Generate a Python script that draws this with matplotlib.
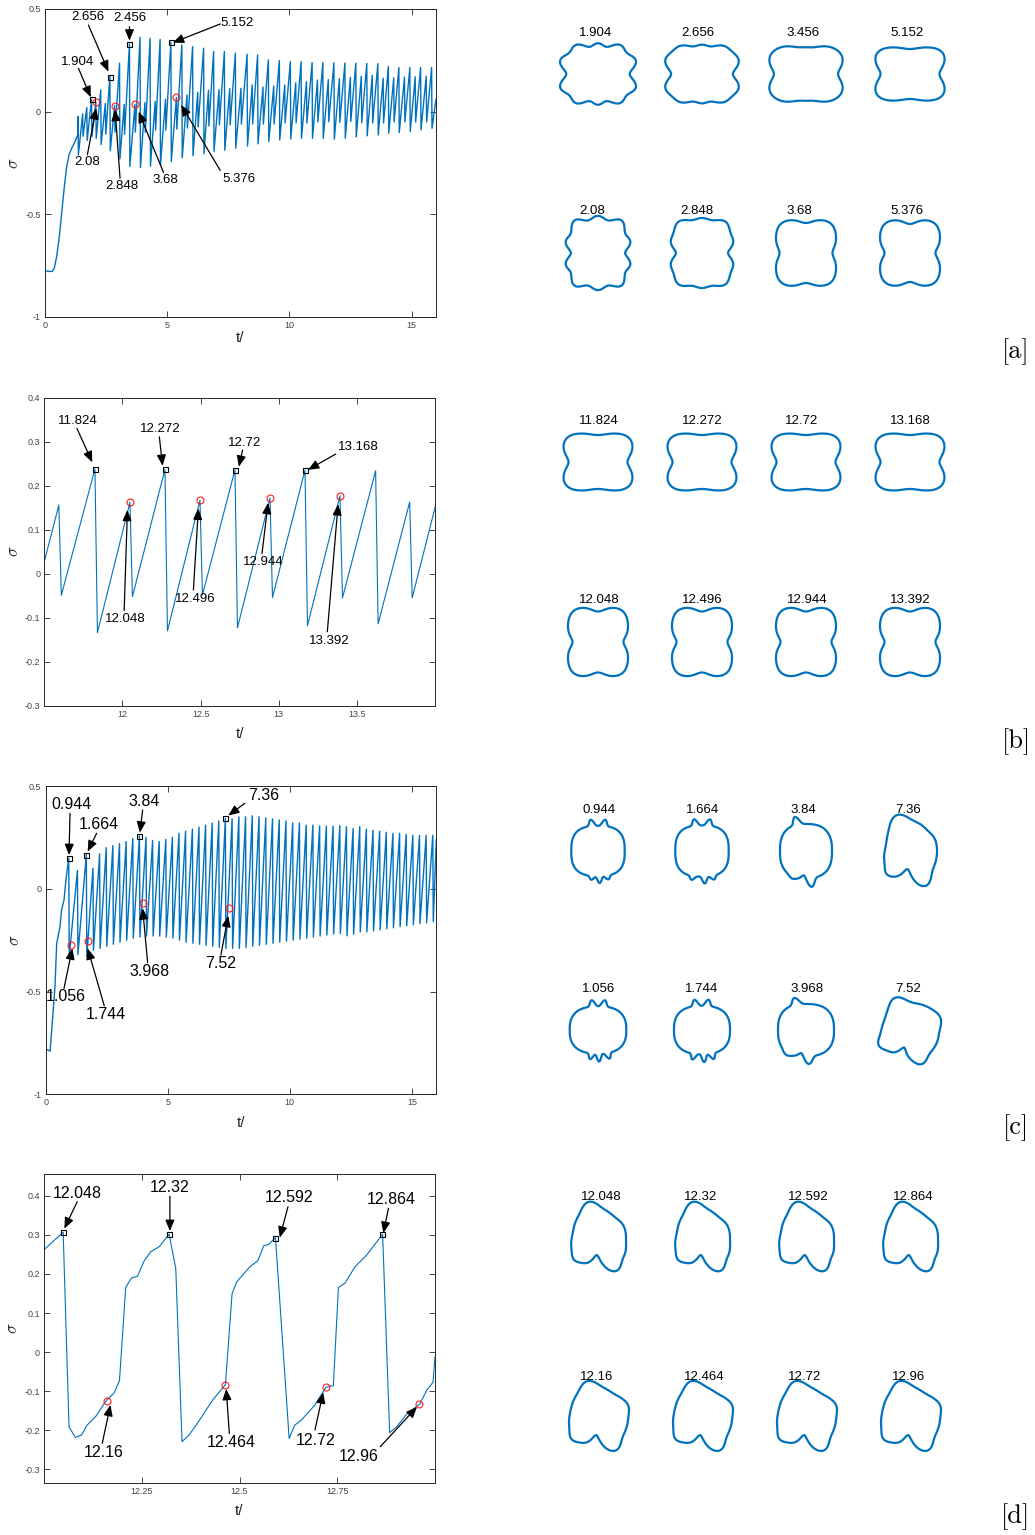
import numpy as np
import matplotlib
matplotlib.use("Agg")
import matplotlib.pyplot as plt
from matplotlib.patches import Polygon

plt.rcParams['font.family'] = ['Liberation Sans', 'DejaVu Sans']
plt.rcParams['mathtext.fontset'] = 'cm'

W, H, DPI = 1035, 1535, 100
BLUE = '#0072BD'
TICK_GREY = '#444444'
fig = plt.figure(figsize=(W / DPI, H / DPI), dpi=DPI, facecolor='white')


def add_px_axes(left, top, right, bottom):
    return fig.add_axes([left / W, 1 - bottom / H, (right - left) / W, (bottom - top) / H])


# ---------------------------------------------------------------- run 1 (panels a, b)
a_start_t = [0.0, 0.01, 0.178, 0.30, 0.383, 0.478, 0.587, 0.683, 0.792, 0.888, 0.984, 1.093, 1.23, 1.339]
a_start_s = [0.04, -0.775, -0.778, -0.778, -0.761, -0.705, -0.607, -0.494, -0.364, -0.267, -0.210, -0.178, -0.145, -0.113]
a_peak_t = [1.35, 1.54, 1.71, 1.904, 2.08, 2.28, 2.47, 2.656, 2.848, 3.05, 3.24, 3.456, 3.68, 3.89,
            4.09, 4.30, 4.51, 4.71, 4.93, 5.152, 5.376, 5.60, 5.81, 6.04, 6.25, 6.49, 6.69, 6.90,
            7.12, 7.34, 7.56, 7.79, 8.02, 8.27, 8.48, 8.70, 8.92, 9.14, 9.36, 9.59, 9.81, 10.04,
            10.26, 10.48, 10.70, 10.93, 11.15, 11.37, 11.593, 11.824, 12.048, 12.272, 12.496, 12.72,
            12.944, 13.168, 13.392, 13.62, 13.838, 14.05, 14.27, 14.48, 14.71, 14.93, 15.15, 15.37,
            15.60, 15.82]
a_peak_s = [-0.024, -0.010, 0.020, 0.060, 0.046, 0.106, 0.040, 0.171, 0.030, 0.236, 0.035, 0.330, 0.035, 0.362,
            0.045, 0.357, 0.050, 0.352, 0.060, 0.338, 0.069, 0.325, 0.082, 0.317, 0.095, 0.309, 0.105, 0.293,
            0.108, 0.293, 0.112, 0.285, 0.114, 0.280, 0.130, 0.276, 0.120, 0.252, 0.125, 0.249, 0.130, 0.244,
            0.141, 0.244, 0.146, 0.239, 0.154, 0.239, 0.156, 0.238, 0.162, 0.237, 0.167, 0.236,
            0.172, 0.235, 0.177, 0.234, 0.163, 0.220, 0.165, 0.215, 0.168, 0.215, 0.170, 0.215,
            0.173, 0.215]
a_trough_s = [-0.210, -0.120, -0.140, -0.120, -0.130, -0.160, -0.110, -0.190, -0.100, -0.230, -0.110, -0.267, -0.100, -0.272,
              -0.100, -0.265, -0.090, -0.259, -0.090, -0.243, -0.085, -0.225, -0.080, -0.215, -0.075, -0.205, -0.070, -0.194,
              -0.065, -0.188, -0.065, -0.178, -0.060, -0.167, -0.060, -0.157, -0.060, -0.146, -0.060, -0.138, -0.055, -0.133,
              -0.055, -0.130, -0.055, -0.130, -0.050, -0.130, -0.049, -0.134, -0.052, -0.130, -0.048, -0.123,
              -0.054, -0.118, -0.055, -0.114, -0.055, -0.105, -0.050, -0.102, -0.050, -0.097, -0.050, -0.089,
              -0.050, -0.081]
a_drop = 0.016
a_end_t, a_end_s = 16.0, 0.06

a_sq_t = [1.904, 2.656, 3.456, 5.152]
a_sq_s = [0.060, 0.171, 0.330, 0.338]
a_sq_labels = ['1.904', '2.656', '2.456', '5.152']
a_ci_t = [2.08, 2.848, 3.68, 5.376]
a_ci_s = [0.046, 0.030, 0.035, 0.069]
a_ci_labels = ['2.08', '2.848', '3.68', '5.376']

b_sq_t = [11.824, 12.272, 12.72, 13.168]
b_sq_s = [0.238, 0.237, 0.236, 0.235]
b_sq_labels = ['11.824', '12.272', '12.72', '13.168']
b_ci_t = [12.048, 12.496, 12.944, 13.392]
b_ci_s = [0.162, 0.167, 0.172, 0.177]
b_ci_labels = ['12.048', '12.496', '12.944', '13.392']

# ---------------------------------------------------------------- run 2 (panels c, d)
c_start_t = [0.0, 0.01, 0.18, 0.245, 0.38, 0.45, 0.585, 0.65, 0.75, 0.83]
c_start_s = [0.0, -0.78, -0.79, -0.687, -0.477, -0.266, -0.185, -0.103, -0.055, 0.043]
c_peak_t = [0.944, 1.30, 1.664, 1.936, 2.208, 2.48, 2.752, 3.024, 3.296, 3.568, 3.84, 4.11, 4.38, 4.65,
            4.92, 5.19, 5.46, 5.73, 6.01, 6.28, 6.55, 6.82, 7.09, 7.36, 7.636, 7.912, 8.187, 8.463,
            8.739, 9.015, 9.291, 9.566, 9.842, 10.118, 10.394, 10.670, 10.945, 11.221, 11.497, 11.773,
            12.048, 12.32, 12.592, 12.864, 13.136, 13.408, 13.68, 13.952, 14.224, 14.496, 14.768, 15.04,
            15.312, 15.584, 15.856]
c_peak_s = [0.148, 0.090, 0.166, 0.100, 0.170, 0.200, 0.210, 0.220, 0.230, 0.245, 0.258, 0.250, 0.235, 0.230,
            0.240, 0.250, 0.270, 0.280, 0.290, 0.300, 0.310, 0.320, 0.330, 0.343, 0.340, 0.350, 0.350, 0.355,
            0.350, 0.345, 0.340, 0.335, 0.330, 0.320, 0.320, 0.310, 0.310, 0.305, 0.305, 0.305,
            0.307, 0.302, 0.293, 0.302, 0.290, 0.285, 0.280, 0.275, 0.270, 0.270, 0.265, 0.260,
            0.260, 0.260, 0.260]
c_trough_s = [-0.330, -0.320, -0.330, -0.300, -0.290, -0.280, -0.270, -0.260, -0.250, -0.240, -0.235, -0.230, -0.230, -0.230,
              -0.235, -0.240, -0.250, -0.260, -0.265, -0.270, -0.275, -0.280, -0.285, -0.290, -0.290, -0.290, -0.285, -0.280,
              -0.275, -0.270, -0.265, -0.260, -0.255, -0.250, -0.245, -0.240, -0.235, -0.230, -0.225, -0.220,
              -0.218, -0.229, -0.221, -0.210, -0.210, -0.205, -0.200, -0.195, -0.190, -0.185, -0.180, -0.175,
              -0.170, -0.165, -0.160]
c_drop = 0.02
c_end_t, c_end_s = 16.0, 0.24

c_sq_t = [0.944, 1.664, 3.84, 7.36]
c_sq_s = [0.148, 0.166, 0.258, 0.343]
c_sq_labels = ['0.944', '1.664', '3.84', '7.36']
c_ci_t = [1.056, 1.744, 3.968, 7.52]
c_ci_s = [-0.272, -0.252, -0.068, -0.093]
c_ci_labels = ['1.056', '1.744', '3.968', '7.52']

d_t = [11.997, 12.049, 12.064, 12.080, 12.096, 12.110, 12.132, 12.159, 12.179, 12.193, 12.209, 12.224,
       12.239, 12.256, 12.273, 12.295, 12.320, 12.337, 12.353, 12.370, 12.389, 12.431, 12.464, 12.481,
       12.493, 12.526, 12.547, 12.562, 12.575, 12.592, 12.627, 12.641, 12.658, 12.693, 12.721, 12.731,
       12.740, 12.753, 12.770, 12.795, 12.825, 12.866, 12.884, 12.902, 12.928, 12.961, 12.979, 12.995, 13.0]
d_s = [0.259, 0.307, -0.191, -0.218, -0.212, -0.187, -0.165, -0.124, -0.105, -0.073, 0.166, 0.190,
       0.194, 0.233, 0.257, 0.270, 0.302, 0.214, -0.229, -0.213, -0.187, -0.123, -0.083, 0.150,
       0.180, 0.218, 0.234, 0.272, 0.276, 0.293, -0.221, -0.187, -0.174, -0.135, -0.090, -0.087,
       -0.086, 0.165, 0.177, 0.218, 0.248, 0.302, -0.206, -0.191, -0.158, -0.133, -0.097, -0.077, -0.012]
d_sq_t = [12.048, 12.32, 12.592, 12.864]
d_sq_s = [0.307, 0.302, 0.293, 0.302]
d_sq_labels = ['12.048', '12.32', '12.592', '12.864']
d_ci_t = [12.16, 12.464, 12.72, 12.96]
d_ci_s = [-0.124, -0.083, -0.090, -0.133]
d_ci_labels = ['12.16', '12.464', '12.72', '12.96']


def sawtooth(start_t, start_s, peak_t, peak_s, trough_s, drop, end_t, end_s):
    pt = np.asarray(peak_t, dtype=float)
    tt = np.column_stack([pt, pt + drop]).ravel()
    ss = np.column_stack([peak_s, trough_s]).ravel()
    t = np.concatenate([start_t, tt, [end_t]])
    s = np.concatenate([start_s, ss, [end_s]])
    return t, s


def style_axes(ax, xlim, ylim, xticks, xlabels, yticks, ylabels, xlab_y):
    ax.set_xlim(*xlim)
    ax.set_ylim(*ylim)
    ax.set_xticks(xticks)
    ax.set_xticklabels(xlabels)
    ax.set_yticks(yticks)
    ax.set_yticklabels(ylabels)
    ax.tick_params(direction='in', length=4, width=0.6, top=True, right=True,
                   labelsize=6.5, labelcolor=TICK_GREY, color='#262626', pad=3)
    for sp in ax.spines.values():
        sp.set_linewidth(0.7)
        sp.set_color('#262626')
    ax.set_ylabel(r'$\sigma$', fontsize=12, color='#262626')
    ax.yaxis.set_label_coords(-0.060, 0.5)
    ax.set_xlabel('t/', fontsize=11, color='#262626')
    ax.xaxis.set_label_coords(0.5, xlab_y)


def annotate(ax, label, text_xy, tail_xy, head_xy, size):
    ax.annotate('', xy=head_xy, xytext=tail_xy,
                arrowprops=dict(arrowstyle='-|>,head_length=0.6,head_width=0.25', lw=0.9,
                                color='black', shrinkA=0, shrinkB=0, mutation_scale=11))
    ax.text(text_xy[0], text_xy[1], label, fontsize=size, ha='center', va='center', color='black')


def markers(ax, sq_t, sq_s, ci_t, ci_s):
    ax.plot(sq_t, sq_s, 's', ms=3.6, mfc='none', mec='black', mew=0.8, zorder=5)
    ax.plot(ci_t, ci_s, 'o', ms=5.0, mfc='none', mec='#ff1a1a', mew=0.8, zorder=5)


yt_a = [-1, -0.5, 0, 0.5]
yl_a = ['-1', '-0.5', '0', '0.5']
xt_a = [0, 5, 10, 15]
xl_a = ['0', '5', '10', '15']
yt_b = [-0.3, -0.2, -0.1, 0, 0.1, 0.2, 0.3, 0.4]
yl_b = ['-0.3', '-0.2', '-0.1', '0', '0.1', '0.2', '0.3', '0.4']

# ---------------- panel a
ta, sa = sawtooth(a_start_t, a_start_s, a_peak_t, a_peak_s, a_trough_s, a_drop, a_end_t, a_end_s)
ax = add_px_axes(45, 9, 436, 317)
ax.plot(ta, sa, color=BLUE, lw=1.0)
markers(ax, a_sq_t, a_sq_s, a_ci_t, a_ci_s)
style_axes(ax, (0, 16), (-1, 0.5), xt_a, xl_a, yt_a, yl_a, -0.046)
a_text = [(1.34, 0.244), (1.76, 0.459), (3.456, 0.455), (7.855, 0.430)]
a_tail = [(1.37, 0.211), (1.776, 0.422), (3.456, 0.414), (7.17, 0.427)]
a_head = [(1.872, 0.070), (2.596, 0.195), (3.456, 0.346), (5.23, 0.336)]
for lab, p, q, r in zip(a_sq_labels, a_text, a_tail, a_head):
    annotate(ax, lab, p, q, r, 9.5)
a_text2 = [(1.735, -0.247), (3.128, -0.364), (4.904, -0.335), (7.94, -0.327)]
a_tail2 = [(1.735, -0.210), (3.07, -0.324), (4.85, -0.296), (7.17, -0.286)]
a_head2 = [(2.09, 0.017), (2.87, 0.009), (3.83, 0.0), (5.57, 0.033)]
for lab, p, q, r in zip(a_ci_labels, a_text2, a_tail2, a_head2):
    annotate(ax, lab, p, q, r, 9.5)

# ---------------- panel b
ax = add_px_axes(44.3, 397.7, 435, 705.7)
ax.plot(ta, sa, color=BLUE, lw=0.8)
markers(ax, b_sq_t, b_sq_s, b_ci_t, b_ci_s)
style_axes(ax, (11.5, 14.0), (-0.3, 0.4), [12, 12.5, 13, 13.5], ['12', '12.5', '13', '13.5'],
           yt_b, yl_b, -0.069)
b_text = [(11.715, 0.347), (12.240, 0.328), (12.78, 0.296), (13.508, 0.289)]
b_tail = [(11.709, 0.330), (12.236, 0.311), (12.769, 0.281), (13.365, 0.272)]
b_head = [(11.807, 0.253), (12.257, 0.245), (12.745, 0.243), (13.187, 0.236)]
for lab, p, q, r in zip(b_sq_labels, b_text, b_tail, b_head):
    annotate(ax, lab, p, q, r, 9.5)
b_text2 = [(12.019, -0.104), (12.465, -0.058), (12.90, 0.026), (13.322, -0.152)]
b_tail2 = [(12.011, -0.084), (12.454, -0.037), (12.893, 0.046), (13.311, -0.132)]
b_head2 = [(12.032, 0.145), (12.486, 0.148), (12.932, 0.161), (13.380, 0.158)]
for lab, p, q, r in zip(b_ci_labels, b_text2, b_tail2, b_head2):
    annotate(ax, lab, p, q, r, 9.5)

# ---------------- panel c
tc, sc = sawtooth(c_start_t, c_start_s, c_peak_t, c_peak_s, c_trough_s, c_drop, c_end_t, c_end_s)
ax = add_px_axes(45.7, 786, 436.3, 1094.3)
ax.plot(tc, sc, color=BLUE, lw=1.0)
markers(ax, c_sq_t, c_sq_s, c_ci_t, c_ci_s)
style_axes(ax, (0, 16), (-1, 0.5), xt_a, xl_a, yt_a, yl_a, -0.069)
c_text = [(1.037, 0.411), (2.156, 0.314), (4.025, 0.424), (8.909, 0.456)]
c_tail = [(0.996, 0.367), (2.087, 0.270), (3.97, 0.383), (8.158, 0.416)]
c_head = [(0.955, 0.164), (1.719, 0.181), (3.861, 0.273), (7.476, 0.356)]
for lab, p, q, r in zip(c_sq_labels, c_text, c_tail, c_head):
    annotate(ax, lab, p, q, r, 11.5)
c_text2 = [(0.819, -0.525), (2.456, -0.614), (4.243, -0.403), (7.162, -0.363)]
c_tail2 = [(0.75, -0.484), (2.401, -0.570), (4.175, -0.359), (7.176, -0.322)]
c_head2 = [(1.091, -0.290), (1.719, -0.290), (3.97, -0.095), (7.476, -0.132)]
for lab, p, q, r in zip(c_ci_labels, c_text2, c_tail2, c_head2):
    annotate(ax, lab, p, q, r, 11.5)

# ---------------- panel d
ax = add_px_axes(44, 1174.3, 435, 1482.7)
ax.plot(d_t, d_s, color=BLUE, lw=0.8)
markers(ax, d_sq_t, d_sq_s, d_ci_t, d_ci_s)
style_axes(ax, (12.0, 13.0), (-0.334, 0.455), [12.25, 12.5, 12.75], ['12.25', '12.5', '12.75'],
           yt_b, yl_b, -0.069)
d_text = [(12.086, 0.406), (12.322, 0.421), (12.628, 0.395), (12.887, 0.391)]
d_tail = [(12.085, 0.385), (12.322, 0.399), (12.624, 0.372), (12.881, 0.368)]
d_head = [(12.052, 0.316), (12.322, 0.310), (12.603, 0.293), (12.868, 0.305)]
for lab, p, q, r in zip(d_sq_labels, d_text, d_tail, d_head):
    annotate(ax, lab, p, q, r, 11.5)
d_text2 = [(12.153, -0.256), (12.480, -0.231), (12.695, -0.225), (12.806, -0.268)]
d_tail2 = [(12.149, -0.233), (12.474, -0.208), (12.693, -0.199), (12.86, -0.242)]
d_head2 = [(12.170, -0.135), (12.466, -0.094), (12.714, -0.103), (12.954, -0.140)]
for lab, p, q, r in zip(d_ci_labels, d_text2, d_tail2, d_head2):
    annotate(ax, lab, p, q, r, 11.5)


# ---------------------------------------------------------------- drop outlines
def outline(a, b, n, rot=0.0, modes=(), bumps=()):
    th = np.linspace(0, 2 * np.pi, 1440, endpoint=False)
    r = (np.abs(np.cos(th) / a) ** n + np.abs(np.sin(th) / b) ** n) ** (-1.0 / n)
    m = np.ones_like(th)
    for k, amp, ph in modes:
        m = m + amp * np.cos(k * th + np.radians(ph))
    r = r * m
    for ang, h, w in bumps:
        d = np.angle(np.exp(1j * (th - np.radians(ang))))
        r = r + h * np.exp(-(d / np.radians(w)) ** 2)
    x, y = r * np.cos(th), r * np.sin(th)
    c, s = np.cos(np.radians(rot)), np.sin(np.radians(rot))
    return c * x - s * y, s * x + c * y


wide_pinch = dict(a=36, b=29.5, n=4, bumps=[(0, -6.5, 17), (180, -6.5, 17), (90, -2.5, 28), (270, -2.5, 28)])
tall_pinch = dict(a=30.5, b=35, n=4.2, bumps=[(0, -5, 16), (180, -5, 16), (90, -4.5, 16), (270, -4.5, 16)])
tooth_top = dict(a=28, b=28, n=2.2, bumps=[(104, 9, 19), (300, 9, 17), (266, -11, 14), (222, 3.5, 14),
                                            (165, -2.5, 25), (50, -2, 18), (330, 2, 15)])
tooth_bot = dict(a=30, b=29, n=2.2, bumps=[(106, 8, 19), (298, 8, 17), (264, -11, 14), (220, 4, 14),
                                            (165, -2, 25), (55, -2, 18), (20, 2, 15)])

shapes = {
    'a': ([dict(a=37, b=29, n=3.2, modes=[(10, 0.06, 180)], bumps=[(0, -3, 14), (180, -3, 14)]),
           dict(a=37, b=28.5, n=3.6, modes=[(10, 0.03, 180)], bumps=[(0, -5, 14), (180, -5, 14)]),
           dict(a=37.5, b=28, n=4.2, modes=[(10, 0.01, 180)],
                bumps=[(0, -5, 15), (180, -5, 15), (90, -1.5, 25), (270, -1.5, 25)]),
           dict(a=36.5, b=27.5, n=4, bumps=[(0, -7, 17), (180, -7, 17), (90, -2.5, 28), (270, -2.5, 28)])],
          [dict(a=31, b=35, n=3.2, modes=[(10, 0.06, 180)], bumps=[(0, -2, 14), (180, -2, 14)]),
           dict(a=31, b=34, n=3.6, modes=[(10, 0.03, 180)], bumps=[(0, -4, 14), (180, -4, 14)]),
           dict(a=30.5, b=33.5, n=4.2, bumps=[(0, -4, 16), (180, -4, 16), (90, -3.5, 16), (270, -3.5, 16)]),
           dict(a=30.5, b=33.5, n=4.2, bumps=[(0, -5, 16), (180, -5, 16), (90, -4.5, 16), (270, -4.5, 16)])]),
    'b': ([wide_pinch] * 4, [tall_pinch] * 4),
    'c': ([dict(a=26.7, b=25, n=2.8, bumps=[(77, 6.5, 6), (103, 6.5, 6), (257, 4, 5.5), (273, 7, 5.5), (290, 4, 5.5)]),
           dict(a=26.7, b=25.5, n=2.8, bumps=[(76, 6.5, 6), (104, 6.5, 6), (250, 4, 5.5), (275, 7, 5.5), (293, 4, 5.5)]),
           dict(a=26, b=27, n=2.6, bumps=[(108, 8, 7), (279, 9, 8), (265, -3, 6), (244, 2.5, 10)]),
           dict(a=27, b=29, n=2.2, bumps=[(110, 9, 20), (295, 9, 17), (262, -11, 14), (225, 4, 14),
                                          (165, -2.5, 25), (50, -2, 18)])],
          [dict(a=28.3, b=23.5, n=2.6, bumps=[(77, 6.5, 6.5), (102, 6.5, 6.5), (255, 6, 5.5), (272, 8, 5.5), (292, 6, 5.5)]),
           dict(a=28, b=24, n=2.6, bumps=[(78, 6.5, 6.5), (104, 6.5, 6.5), (252, 6, 5.5), (274, 8, 5.5), (292, 6, 5.5)]),
           dict(a=28, b=26, n=2.6, bumps=[(110, 7, 8), (275, 8, 9), (258, -3, 7), (232, 3, 12)]),
           dict(a=29, b=27, n=2.4, rot=-4, bumps=[(118, 7, 18), (292, 8, 16), (255, -9, 12), (210, 5, 14),
                                                  (25, 3, 18), (160, -2, 20)])]),
    'd': ([tooth_top] * 4, [tooth_bot] * 4),
}
shape_labels = {
    'a': (['1.904', '2.656', '3.456', '5.152'], ['2.08', '2.848', '3.68', '5.376']),
    'b': (['11.824', '12.272', '12.72', '13.168'], ['12.048', '12.496', '12.944', '13.392']),
    'c': (['0.944', '1.664', '3.84', '7.36'], ['1.056', '1.744', '3.968', '7.52']),
    'd': (['12.048', '12.32', '12.592', '12.864'], ['12.16', '12.464', '12.72', '12.96']),
}

# layout of the outline grid (pixel positions)
col_x = [598, 702, 806, 910]
row_y = {'a': (74, 253), 'b': (462, 642), 'c': (851, 1030), 'd': (1238, 1417)}
label_y = {'a': (33, 211), 'b': (421, 600), 'c': (810, 989), 'd': (1197, 1377)}
label_x = {'a': ([596, 698, 803, 907], [592, 697, 799, 907]),
           'b': ([599, 702, 802, 910], [599, 702, 807, 910]),
           'c': ([599, 703, 803, 908], [599, 702, 807, 908]),
           'd': ([601, 701, 808, 913], [597, 704, 805, 909])}
BOX = 110

for key in 'abcd':
    for row in range(2):
        for col in range(4):
            cx, cy = col_x[col], row_y[key][row]
            sax = add_px_axes(cx - BOX / 2, cy - BOX / 2, cx + BOX / 2, cy + BOX / 2)
            x, y = outline(**shapes[key][row][col])
            sax.add_patch(Polygon(np.column_stack([x, y]), closed=True, fill=False,
                                  edgecolor=BLUE, lw=1.6, joinstyle='round'))
            sax.set_xlim(-BOX / 2, BOX / 2)
            sax.set_ylim(-BOX / 2, BOX / 2)
            sax.axis('off')
            fig.text(label_x[key][row][col] / W, 1 - label_y[key][row] / H, shape_labels[key][row][col],
                     fontsize=9.5, ha='center', va='center', color='black')

panel_tag_y = {'a': 352, 'b': 742, 'c': 1128, 'd': 1517}
for key, yy in panel_tag_y.items():
    fig.text(1016 / W, 1 - yy / H, '[' + key + ']', fontsize=19, ha='center', va='center',
             family='cmr10', color='black')

fig.savefig('out.png', dpi=DPI, facecolor='white')
